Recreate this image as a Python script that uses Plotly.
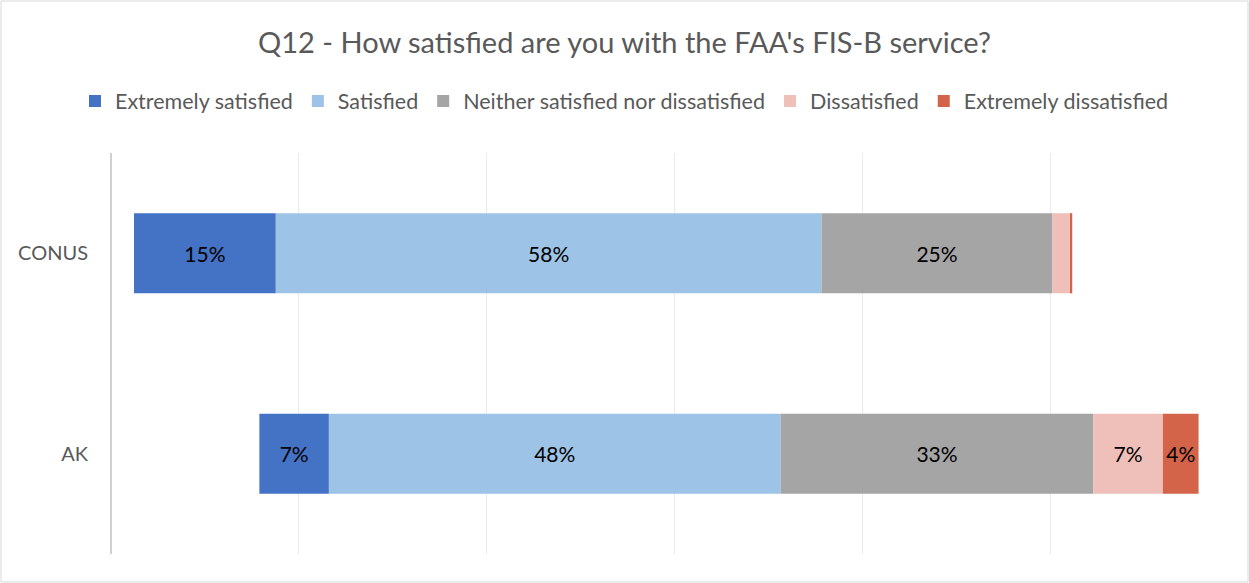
import plotly.graph_objects as go

categories = ["CONUS", "AK"]
offset = [2.45, 15.8]
extremely_satisfied = [15.1, 7.4]
satisfied = [58.1, 48.1]
neither = [24.6, 33.3]
dissatisfied = [1.9, 7.4]
extremely_dissatisfied = [0.2, 3.8]

series = [
    ("Extremely satisfied", extremely_satisfied, "#4472C4"),
    ("Satisfied", satisfied, "#9DC3E6"),
    ("Neither satisfied nor dissatisfied", neither, "#A5A5A5"),
    ("Dissatisfied", dissatisfied, "#EEC0B9"),
    ("Extremely dissatisfied", extremely_dissatisfied, "#D3644A"),
]

W, H = 1249, 583
ML, MR, MT, MB = 111, 11, 153, 29
FONT = "Lato"

fig = go.Figure()
base = list(offset)
for name, vals, color in series:
    fig.add_trace(go.Bar(
        y=categories, x=vals, base=list(base), orientation="h", name=name,
        marker=dict(color=color, line=dict(width=0)),
        text=[f"{round(v)}%" if v >= 3 else "" for v in vals],
        textposition="inside", insidetextanchor="middle",
        textfont=dict(color="black", size=21, family=FONT),
        constraintext="none",
        width=0.4,
    ))
    base = [b + v for b, v in zip(base, vals)]

pw = W - ML - MR
ph = H - MT - MB
fig.add_shape(type="rect", xref="paper", yref="paper",
              x0=(1 - ML) / pw, x1=(W - 1 - ML) / pw,
              y0=-(MB - 1) / ph, y1=1 + (MT - 1) / ph,
              line=dict(color="#D9D9D9", width=1), fillcolor="rgba(0,0,0,0)")

fig.update_layout(
    template="none",
    width=W, height=H,
    margin=dict(l=ML, r=MR, t=MT, b=MB, pad=0),
    barmode="overlay",
    plot_bgcolor="white", paper_bgcolor="white",
    font=dict(family=FONT, color="#595959"),
    title=dict(text="Q12 - How satisfied are you with the FAA's FIS-B service?",
               x=0.5, xanchor="center", xref="container",
               y=1 - 43 / H, yref="container", yanchor="middle",
               font=dict(size=29, color="#595959", family=FONT)),
    legend=dict(orientation="h", xref="container", yref="container",
                x=0.5, xanchor="center", y=1 - 101 / H, yanchor="middle",
                font=dict(size=21.5, color="#595959", family=FONT),
                traceorder="normal", itemwidth=30),
    showlegend=True,
    xaxis=dict(range=[0, 120], tickvals=[0, 20, 40, 60, 80, 100],
               showticklabels=False, showgrid=True, gridcolor="#EBEBEB",
               gridwidth=1, zeroline=True, zerolinecolor="#D0D0D0",
               zerolinewidth=2, ticks="", showline=False, fixedrange=True),
    yaxis=dict(categoryorder="array", categoryarray=categories[::-1],
               ticks="", showgrid=False, showline=False, zeroline=False,
               tickfont=dict(size=20, color="#595959", family=FONT),
               ticklabelstandoff=22),
)

fig.write_html("out.html", config={"displayModeBar": False},
               post_script="document.body.style.margin='0px';")
